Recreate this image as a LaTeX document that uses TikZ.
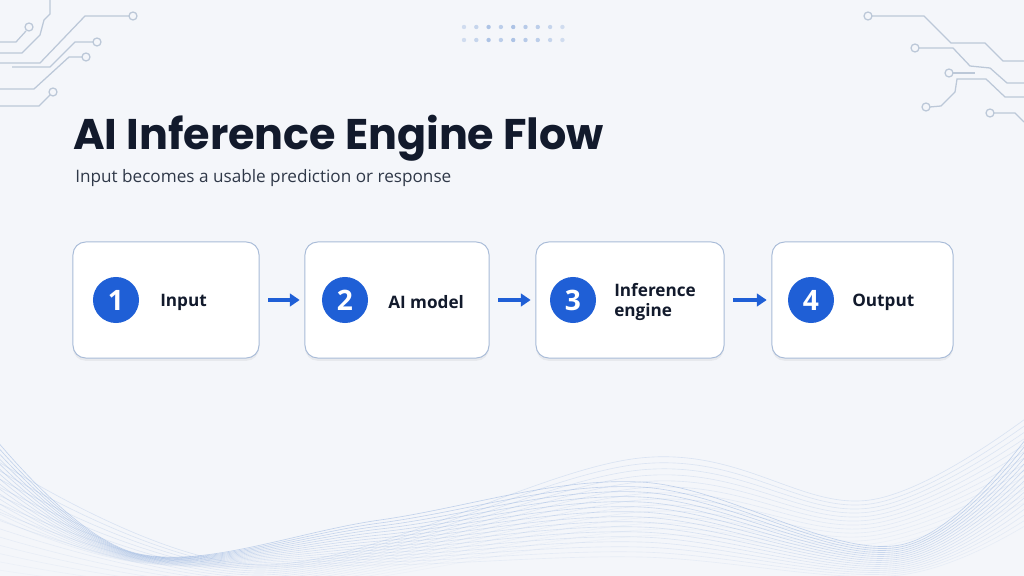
\documentclass[tikz,border=0pt]{standalone}
\usepackage{fontspec}
\setmainfont{Open Sans}
\newfontfamily\headfont{Poppins}
\usepackage{xcolor}
\usetikzlibrary{arrows.meta, positioning, shadows}
\definecolor{bgcolor}{HTML}{F4F6FA}
\definecolor{inkcolor}{HTML}{121A2C}
\definecolor{subcolor}{HTML}{2F3848}
\definecolor{stepblue}{HTML}{1F5FD6}
\definecolor{cardborder}{HTML}{A9BCD8}
\definecolor{tracecolor}{HTML}{BCC8D8}
\definecolor{wavecolor}{HTML}{8FAEDD}

\begin{document}
\begin{tikzpicture}[x=0.025cm, y=-0.025cm,
    stepcard/.style={draw=cardborder, line width=0.7pt, fill=white, rounded corners=9pt,
        minimum height=2.9cm, drop shadow={shadow xshift=0pt, shadow yshift=-2pt, opacity=0.05, fill=black}},
    stepnum/.style={circle, fill=stepblue, minimum size=1.15cm, inner sep=0pt, text=white,
        font=\fontsize{20}{20}\selectfont\bfseries},
    steplabel/.style={anchor=west, align=left, inner sep=0pt, text=inkcolor,
        font=\fontsize{12.2}{14.5}\selectfont\bfseries},
    flowarrow/.style={-{Triangle[length=7pt, width=9pt]}, line width=2.2pt, draw=stepblue,
        shorten <=0.22cm, shorten >=0.12cm},
    trace/.style={draw=tracecolor, line width=0.9pt},
    pad/.style={draw=tracecolor, line width=0.9pt, fill=bgcolor},
    wave/.style={draw=wavecolor, line width=0.45pt}]

    % Background
    \fill[bgcolor] (0,0) rectangle (1024,576);
    \useasboundingbox (0,0) rectangle (1024,576);

    % Waves at the bottom
    \begin{scope}
        \clip (0,0) rectangle (1024,576);
        \foreach \i in {0,...,15}{
            \pgfmathsetmacro\ya{420+6*\i}
            \pgfmathsetmacro\yb{553+0.6*\i}
            \pgfmathsetmacro\yc{520+3*\i}
            \pgfmathsetmacro\yd{482+5*\i}
            \pgfmathsetmacro\ye{545+2*\i}
            \pgfmathsetmacro\yf{405+7*\i}
            \pgfmathsetmacro\op{0.5-0.025*\i}
            \draw[wave, opacity=\op] plot[smooth, tension=0.6] coordinates
                {(-20,\ya) (135,\yb) (380,\yc) (640,\yd) (900,\ye) (1050,\yf)};
        }
        \foreach \i in {0,...,13}{
            \pgfmathsetmacro\ya{450+9*\i}
            \pgfmathsetmacro\yb{565+2*\i}
            \pgfmathsetmacro\yc{458+6*\i}
            \pgfmathsetmacro\yd{500+4*\i}
            \pgfmathsetmacro\ye{400+7*\i}
            \pgfmathsetmacro\op{0.26-0.015*\i}
            \draw[wave, opacity=\op] plot[smooth, tension=0.6] coordinates
                {(-20,\ya) (260,\yb) (640,\yc) (870,\yd) (1050,\ye)};
        }
    \end{scope}

    % Circuit traces, top left
    \draw[trace] (50,0) -- (50,14) -- (44,20) -- (40,35) -- (22,53) -- (0,53);
    \draw[trace] (26,31) -- (16,42) -- (0,42);
    \draw[pad] (29,27) circle (4);
    \draw[trace] (129,16) -- (85,16) -- (40,63) -- (0,63);
    \draw[pad] (133,16) circle (4);
    \draw[trace] (93,42) -- (75,42) -- (50,67) -- (12,67);
    \draw[pad] (97,42) circle (4);
    \draw[trace] (82,57) -- (69,57) -- (34,89) -- (0,89);
    \draw[pad] (86,57) circle (4);
    \draw[trace] (50,95) -- (39,106) -- (0,106);
    \draw[pad] (53,92) circle (4);

    % Circuit traces, top right
    \draw[trace] (872,16) -- (924,16) -- (951,43) -- (985,43) -- (1003,61) -- (1024,61);
    \draw[pad] (868,16) circle (4);
    \draw[trace] (919,48) -- (953,48) -- (970,66) -- (990,68) -- (1007,83) -- (1024,83);
    \draw[pad] (915,48) circle (4);
    \draw[trace] (953,73) -- (975,73);
    \draw[pad] (949,73) circle (4);
    \draw[trace] (1024,97) -- (1005,97) -- (986,79) -- (957,79) -- (955,92) -- (941,106) -- (930,107);
    \draw[pad] (926,107) circle (4);
    \draw[trace] (994,113) -- (1015,113) -- (1024,122);
    \draw[pad] (990,113) circle (4);

    % Dot grid, top centre
    \foreach \k/\o in {0/0.35,1/0.45,2/0.7,3/0.55,4/0.7,5/0.6,6/0.55,7/0.45,8/0.35}{
        \fill[wavecolor, opacity=\o] (464+12.3*\k,27) circle (2.2);
        \fill[wavecolor, opacity=\o] (464+12.3*\k,40) circle (2.2);
    }

    % Title
    \node[anchor=base west, inner sep=0pt, text=inkcolor,
        font=\headfont\fontsize{30.5}{32}\selectfont\bfseries] (title) at (73,150) {AI Inference Engine Flow};
    \node[anchor=base west, inner sep=0pt, text=subcolor,
        font=\fontsize{12.2}{15}\selectfont] (subtitle) at (75,183) {Input becomes a usable prediction or response};

    % Step cards
    \node[stepcard, minimum width=4.65cm] (card1) at (166,300) {};
    \node[stepcard, minimum width=4.6cm] (card2) at (397,300) {};
    \node[stepcard, minimum width=4.7cm] (card3) at (630,300) {};
    \node[stepcard, minimum width=4.525cm] (card4) at (862.5,300) {};

    % Step numbers
    \node[stepnum] (num1) at (116,300) {1};
    \node[stepnum] (num2) at (345,300) {2};
    \node[stepnum] (num3) at (573,300) {3};
    \node[stepnum] (num4) at (811,300) {4};

    % Step labels
    \node[steplabel] (lab1) at (160,302) {Input};
    \node[steplabel] (lab2) at (388,302) {AI model};
    \node[steplabel] (lab3) at (614,302) {Inference\\engine};
    \node[steplabel] (lab4) at (852,302) {Output};

    % Flow arrows
    \draw[flowarrow] (card1) -- (card2);
    \draw[flowarrow] (card2) -- (card3);
    \draw[flowarrow] (card3) -- (card4);

\end{tikzpicture}
\end{document}
